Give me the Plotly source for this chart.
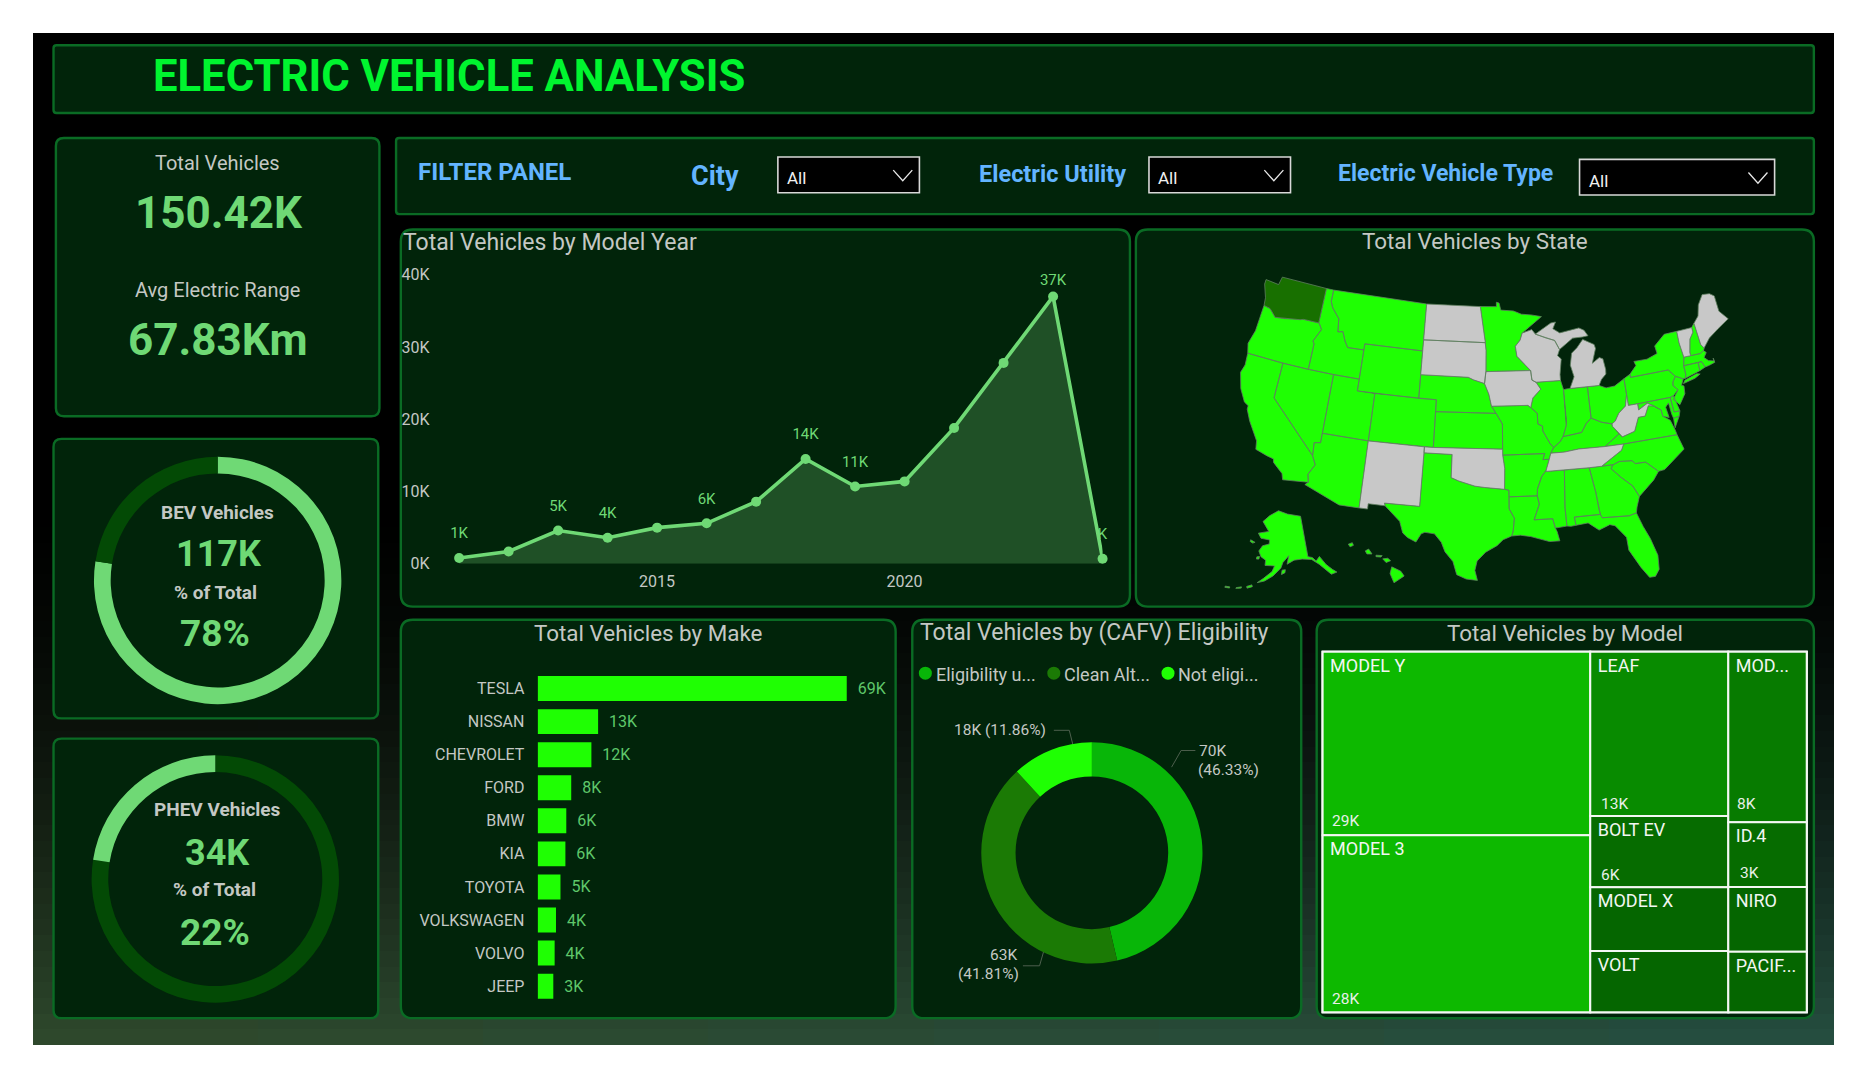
import math
import plotly.graph_objects as go

# The page keeps the browser's 8px body margin, so the figure fills the window inside it
PAGE_W, PAGE_H, OFF = 1865, 1078, 8
W, H = PAGE_W - 2 * OFF, PAGE_H - 2 * OFF
S = PAGE_W / 1568
FONT = "Roboto"

years = [2011, 2012, 2013, 2014, 2015, 2016, 2017, 2018, 2019, 2020, 2021, 2022, 2023, 2024]
year_totals = [0.8, 1.7, 4.6, 3.6, 5.0, 5.6, 8.6, 14.5, 10.7, 11.4, 18.8, 27.8, 37.0, 0.7]
year_labels = ["1K", "", "5K", "4K", "", "6K", "", "14K", "11K", "", "", "", "37K", "K"]
makes = ["TESLA", "NISSAN", "CHEVROLET", "FORD", "BMW", "KIA", "TOYOTA", "VOLKSWAGEN", "VOLVO", "JEEP"]
make_totals = [69, 13.5, 12, 7.5, 6.4, 6.2, 5.1, 4.1, 3.8, 3.5]
make_labels = ["69K", "13K", "12K", "8K", "6K", "6K", "5K", "4K", "4K", "3K"]
cafv_totals = [46.33, 41.81, 11.86]
bev_phev = [117, 34]
model_names = ["MODEL Y", "MODEL 3", "LEAF", "BOLT EV", "MODEL X", "VOLT", "MOD...", "ID.4", "NIRO", "PACIF..."]
model_totals = [29, 28, 13.4, 5.8, 5.2, 5.0, 7.9, 3.0, 3.0, 2.8]
model_group = ["a", "a", "b", "b", "b", "b", "c", "c", "c", "c"]
model_colors = ["#0db900", "#0db900", "#088b00", "#066c00", "#056600", "#056600", "#077b00", "#066c00", "#056600", "#056600"]
no_data_states = ["ND", "SD", "IA", "WI", "MI", "MI2", "WV", "TN", "OK", "NM", "ME", "VT"]
top_state = ["WA"]

# state outlines, (lon, lat): the map base layer cannot be fetched offline
STATE_SHAPES = {
"WA": [(-124.7,48.4),(-123.0,48.3),(-122.8,49.0),(-117.0,49.0),(-117.0,46.0),(-118.9,46.0),(-119.3,45.9),(-121.2,45.65),(-122.3,45.55),(-122.8,45.9),(-123.2,46.15),(-124.0,46.25),(-124.1,46.9),(-124.7,48.0)],
"OR": [(-124.0,46.25),(-123.2,46.15),(-122.8,45.9),(-122.3,45.55),(-121.2,45.65),(-119.3,45.9),(-118.9,46.0),(-117.0,46.0),(-116.9,45.95),(-116.5,45.5),(-116.85,44.9),(-117.2,44.4),(-117.0,44.2),(-117.0,42.0),(-120.0,42.0),(-124.2,42.0),(-124.5,42.8),(-124.1,44.0)],
"CA": [(-124.2,42.0),(-120.0,42.0),(-120.0,39.0),(-114.6,35.0),(-114.15,34.3),(-114.7,33.4),(-114.5,32.75),(-117.1,32.5),(-117.3,33.0),(-118.4,33.75),(-118.5,34.03),(-119.2,34.15),(-120.5,34.45),(-120.65,35.15),(-121.9,36.6),(-122.5,37.5),(-122.5,37.8),(-123.0,38.0),(-123.8,39.0),(-124.35,40.3),(-124.1,41.0)],
"NV": [(-120.0,42.0),(-117.0,42.0),(-114.04,42.0),(-114.04,36.2),(-114.7,36.1),(-114.6,35.0),(-120.0,39.0)],
"ID": [(-117.0,49.0),(-116.05,49.0),(-116.05,48.0),(-115.7,47.5),(-114.7,46.7),(-114.5,45.6),(-113.9,45.7),(-113.45,44.95),(-113.0,44.45),(-111.05,44.48),(-111.05,42.0),(-114.04,42.0),(-117.0,42.0),(-117.0,44.2),(-117.2,44.4),(-116.85,44.9),(-116.5,45.5),(-116.9,45.95),(-117.0,46.0)],
"MT": [(-116.05,49.0),(-104.05,49.0),(-104.05,45.94),(-104.05,45.0),(-111.05,45.0),(-111.05,44.48),(-113.0,44.45),(-113.45,44.95),(-113.9,45.7),(-114.5,45.6),(-114.7,46.7),(-115.7,47.5),(-116.05,48.0)],
"WY": [(-111.05,45.0),(-104.05,45.0),(-104.05,43.0),(-104.05,41.0),(-111.05,41.0)],
"UT": [(-114.04,42.0),(-111.05,42.0),(-111.05,41.0),(-109.05,41.0),(-109.05,37.0),(-114.04,37.0)],
"CO": [(-109.05,41.0),(-104.05,41.0),(-102.05,41.0),(-102.05,40.0),(-102.05,37.0),(-109.05,37.0)],
"AZ": [(-114.04,37.0),(-109.05,37.0),(-109.05,31.33),(-111.07,31.33),(-114.8,32.5),(-114.5,32.75),(-114.7,33.4),(-114.15,34.3),(-114.6,35.0),(-114.7,36.1),(-114.04,36.2)],
"NM": [(-109.05,37.0),(-103.0,37.0),(-103.05,32.0),(-106.6,32.0),(-106.5,31.78),(-108.2,31.78),(-108.2,31.33),(-109.05,31.33)],
"ND": [(-104.05,49.0),(-97.2,49.0),(-96.55,46.0),(-96.55,45.94),(-104.05,45.94)],
"SD": [(-104.05,45.94),(-96.55,45.94),(-96.45,45.3),(-96.45,43.5),(-96.6,42.5),(-97.9,42.8),(-98.5,43.0),(-104.05,43.0)],
"NE": [(-104.05,43.0),(-98.5,43.0),(-97.9,42.8),(-96.6,42.5),(-96.1,41.6),(-95.8,40.6),(-95.3,40.0),(-102.05,40.0),(-102.05,41.0),(-104.05,41.0)],
"KS": [(-102.05,40.0),(-95.3,40.0),(-94.6,39.1),(-94.62,37.0),(-102.05,37.0)],
"OK": [(-103.0,37.0),(-102.05,37.0),(-94.62,37.0),(-94.62,36.5),(-94.43,35.4),(-94.48,33.64),(-96.5,33.8),(-97.5,33.9),(-99.2,34.3),(-100.0,34.56),(-100.0,36.5),(-103.0,36.5)],
"TX": [(-103.0,36.5),(-100.0,36.5),(-100.0,34.56),(-99.2,34.3),(-97.5,33.9),(-96.5,33.8),(-94.48,33.64),(-94.04,33.55),(-94.04,33.0),(-94.05,31.99),(-93.55,31.2),(-93.7,30.1),(-93.85,29.7),(-94.7,29.4),(-95.3,28.9),(-96.4,28.35),(-97.2,27.6),(-97.4,26.8),(-97.15,25.95),(-98.2,26.05),(-99.1,26.4),(-99.5,27.5),(-100.3,28.3),(-100.7,29.1),(-101.4,29.77),(-102.35,29.85),(-102.7,29.7),(-103.15,28.98),(-104.0,29.3),(-104.5,29.65),(-104.9,30.6),(-106.5,31.78),(-106.6,32.0),(-103.05,32.0)],
"MN": [(-97.2,49.0),(-95.15,49.0),(-95.15,49.38),(-94.8,49.3),(-94.6,48.7),(-93.0,48.6),(-92.0,48.3),(-90.8,48.2),(-89.5,48.0),(-92.0,46.7),(-92.3,46.1),(-92.9,45.6),(-92.75,44.75),(-91.2,43.5),(-96.45,43.5),(-96.45,45.3),(-96.55,45.94),(-96.55,46.0)],
"IA": [(-96.45,43.5),(-91.2,43.5),(-91.1,42.7),(-90.65,42.5),(-90.15,41.9),(-91.1,41.2),(-91.4,40.4),(-91.7,40.6),(-95.8,40.6),(-96.1,41.6),(-96.6,42.5)],
"MO": [(-95.8,40.6),(-91.7,40.6),(-91.4,40.4),(-90.7,39.9),(-90.7,39.0),(-90.2,38.8),(-90.2,38.4),(-89.5,37.3),(-89.15,36.95),(-89.5,36.5),(-89.7,36.0),(-90.37,36.0),(-90.15,36.5),(-94.62,36.5),(-94.62,37.0),(-94.6,39.1),(-95.3,40.0)],
"AR": [(-94.62,36.5),(-90.15,36.5),(-90.37,36.0),(-89.7,36.0),(-90.1,35.1),(-90.6,34.6),(-91.1,33.6),(-91.17,33.0),(-94.04,33.0),(-94.04,33.55),(-94.48,33.64),(-94.43,35.4)],
"LA": [(-94.04,33.0),(-91.17,33.0),(-91.0,32.3),(-91.6,31.0),(-89.75,31.0),(-89.55,30.2),(-89.4,29.9),(-89.2,29.1),(-90.2,29.1),(-91.3,29.4),(-92.0,29.6),(-93.0,29.75),(-93.85,29.7),(-93.7,30.1),(-93.55,31.2),(-94.05,31.99)],
"WI": [(-92.0,46.7),(-90.8,46.95),(-90.4,46.55),(-89.1,46.15),(-88.1,45.9),(-87.6,45.1),(-87.9,44.6),(-87.5,44.3),(-87.8,43.0),(-87.8,42.5),(-90.65,42.5),(-91.1,42.7),(-91.2,43.5),(-92.75,44.75),(-92.9,45.6),(-92.3,46.1)],
"IL": [(-90.65,42.5),(-87.8,42.5),(-87.55,41.7),(-87.53,39.3),(-87.6,38.7),(-88.05,37.8),(-88.4,37.4),(-89.15,36.95),(-89.5,37.3),(-90.2,38.4),(-90.2,38.8),(-90.7,39.0),(-90.7,39.9),(-91.4,40.4),(-91.1,41.2),(-90.15,41.9)],
"IN": [(-87.55,41.7),(-87.2,41.75),(-84.8,41.75),(-84.8,39.1),(-85.4,38.7),(-86.0,38.0),(-87.0,37.9),(-88.05,37.8),(-87.6,38.7),(-87.53,39.3)],
"OH": [(-84.8,41.75),(-83.45,41.73),(-82.7,41.45),(-81.7,41.5),(-80.52,41.98),(-80.52,40.64),(-80.85,39.7),(-81.7,39.2),(-82.2,38.6),(-82.6,38.4),(-83.7,38.65),(-84.8,39.1)],
"MI": [(-86.8,41.76),(-84.8,41.75),(-83.45,41.73),(-83.1,42.2),(-82.5,42.6),(-82.45,43.0),(-82.6,43.9),(-83.0,44.05),(-83.9,43.65),(-83.3,44.85),(-83.4,45.2),(-84.7,45.75),(-85.5,45.1),(-86.2,44.7),(-86.5,43.7),(-86.2,42.7)],
"MI2": [(-90.4,46.55),(-88.4,47.4),(-87.8,47.45),(-88.2,46.9),(-87.4,46.5),(-86.0,46.65),(-85.0,46.75),(-84.4,46.5),(-84.0,46.0),(-84.7,45.95),(-85.9,45.95),(-86.6,45.6),(-87.6,45.1),(-88.1,45.9),(-89.1,46.15)],
"KY": [(-89.5,36.5),(-88.05,36.5),(-86.5,36.65),(-83.68,36.6),(-82.0,37.5),(-82.6,38.2),(-82.6,38.4),(-83.7,38.65),(-84.8,39.1),(-85.4,38.7),(-86.0,38.0),(-87.0,37.9),(-88.05,37.8),(-88.4,37.4),(-89.15,36.95)],
"TN": [(-90.1,35.0),(-90.1,35.1),(-89.7,36.0),(-89.5,36.5),(-88.05,36.5),(-86.5,36.65),(-83.68,36.6),(-81.68,36.59),(-82.0,36.1),(-84.3,35.0),(-85.6,35.0),(-88.2,35.0)],
"VA": [(-83.68,36.6),(-81.68,36.59),(-75.9,36.55),(-76.0,37.0),(-76.3,37.85),(-77.0,38.3),(-77.05,38.85),(-77.5,39.1),(-77.75,39.3),(-78.35,39.4),(-78.9,38.6),(-79.65,38.6),(-80.3,37.5),(-81.7,37.2),(-82.0,37.5)],
"VA2": [(-75.9,37.95),(-75.25,38.03),(-75.95,37.15)],
"WV": [(-82.6,38.2),(-82.0,37.5),(-81.7,37.2),(-80.3,37.5),(-79.65,38.6),(-78.9,38.6),(-78.35,39.4),(-77.75,39.3),(-78.4,39.62),(-79.48,39.2),(-79.48,39.72),(-80.52,39.72),(-80.52,40.64),(-80.85,39.7),(-81.7,39.2),(-82.2,38.6),(-82.6,38.4)],
"NC": [(-84.3,35.0),(-82.0,36.1),(-81.68,36.59),(-75.9,36.55),(-75.5,35.25),(-76.5,34.7),(-77.9,33.9),(-78.55,33.85),(-79.7,34.8),(-80.8,34.82),(-81.05,35.1),(-82.4,35.2),(-83.1,35.0)],
"SC": [(-83.1,35.0),(-82.4,35.2),(-81.05,35.1),(-80.8,34.82),(-79.7,34.8),(-78.55,33.85),(-79.2,33.2),(-80.5,32.3),(-80.9,32.05),(-81.4,33.0),(-82.5,33.9),(-83.35,34.7)],
"GA": [(-85.6,35.0),(-84.3,35.0),(-83.1,35.0),(-83.35,34.7),(-82.5,33.9),(-81.4,33.0),(-80.9,32.05),(-81.3,31.2),(-81.45,30.72),(-82.2,30.57),(-84.86,30.7),(-85.0,31.0),(-85.1,31.5),(-85.2,32.85)],
"AL": [(-88.2,35.0),(-85.6,35.0),(-85.2,32.85),(-85.1,31.5),(-85.0,31.0),(-87.6,31.0),(-87.5,30.3),(-88.0,30.25),(-88.4,30.3),(-88.45,31.9)],
"MS": [(-90.1,35.0),(-88.2,35.0),(-88.45,31.9),(-88.4,30.3),(-89.55,30.2),(-89.75,31.0),(-91.6,31.0),(-91.0,32.3),(-91.17,33.0),(-91.1,33.6),(-90.6,34.6),(-90.1,35.1)],
"FL": [(-87.6,31.0),(-85.0,31.0),(-84.86,30.7),(-82.2,30.57),(-81.45,30.72),(-81.0,29.5),(-80.5,28.4),(-80.05,26.9),(-80.15,25.7),(-80.6,25.15),(-81.15,25.15),(-81.8,26.1),(-82.7,27.7),(-82.75,28.8),(-83.7,29.9),(-84.2,30.05),(-85.3,29.7),(-86.3,30.4),(-87.5,30.3)],
"MD": [(-79.48,39.72),(-75.79,39.72),(-75.7,38.46),(-75.05,38.45),(-75.25,38.03),(-75.9,37.95),(-76.0,38.3),(-76.1,39.3),(-76.5,39.0),(-76.35,38.1),(-77.0,38.3),(-77.05,38.85),(-77.5,39.1),(-77.75,39.3),(-78.4,39.62),(-79.48,39.2)],
"DE": [(-75.79,39.72),(-75.4,39.8),(-75.05,38.45),(-75.7,38.46)],
"PA": [(-80.52,41.98),(-79.76,42.27),(-79.76,42.0),(-75.35,42.0),(-74.7,41.35),(-75.1,40.95),(-75.2,40.65),(-74.75,40.2),(-75.4,39.8),(-75.79,39.72),(-79.48,39.72),(-80.52,39.72),(-80.52,40.64)],
"NJ": [(-74.7,41.35),(-73.9,41.0),(-74.25,40.5),(-74.0,40.4),(-74.1,39.75),(-74.9,38.95),(-75.5,39.5),(-74.75,40.2),(-75.2,40.65),(-75.1,40.95)],
"NY": [(-79.76,42.27),(-79.76,42.0),(-75.35,42.0),(-74.7,41.35),(-73.9,41.0),(-73.65,41.0),(-73.5,41.3),(-73.5,42.05),(-73.25,42.75),(-73.4,44.0),(-73.35,45.0),(-74.9,45.0),(-76.3,44.2),(-76.2,43.55),(-77.5,43.25),(-79.05,43.27),(-78.9,42.9)],
"NY2": [(-74.0,40.6),(-73.75,40.85),(-72.3,41.15),(-71.9,41.05),(-72.6,40.8)],
"VT": [(-73.35,45.0),(-71.5,45.0),(-71.5,44.6),(-72.05,44.1),(-72.45,43.0),(-72.45,42.73),(-73.25,42.75),(-73.4,44.0)],
"NH": [(-71.5,45.0),(-71.1,45.3),(-70.98,43.4),(-70.7,43.07),(-70.85,42.87),(-71.3,42.7),(-72.45,42.73),(-72.45,43.0),(-72.05,44.1),(-71.5,44.6)],
"ME": [(-71.1,45.3),(-70.4,45.8),(-70.0,46.7),(-69.2,47.45),(-68.3,47.35),(-67.8,47.05),(-67.8,45.7),(-67.45,45.3),(-67.0,44.85),(-68.5,44.3),(-69.8,43.75),(-70.7,43.07),(-70.98,43.4)],
"MA": [(-73.5,42.05),(-73.25,42.75),(-72.45,42.73),(-71.3,42.7),(-70.85,42.87),(-70.6,42.65),(-71.0,42.3),(-70.6,41.95),(-70.0,41.8),(-70.0,42.05),(-69.95,41.67),(-70.65,41.55),(-71.15,41.5),(-71.4,42.02),(-71.8,42.02)],
"RI": [(-71.8,42.02),(-71.4,42.02),(-71.15,41.5),(-71.85,41.32)],
"CT": [(-73.5,42.05),(-71.8,42.02),(-71.85,41.32),(-73.65,41.0),(-73.5,41.3)],
}
ALASKA_SHAPES = [
 [(-141.0,69.6),(-141.0,60.3),(-139.0,59.9),(-137.5,58.9),(-135.5,59.7),(-133.5,57.5),(-131.5,56.0),(-130.0,55.0),(-132.5,55.0),(-134.5,56.5),(-136.5,58.0),(-139.5,59.5),(-144.0,60.0),(-148.0,60.0),(-151.5,59.2),(-150.5,61.1),(-153.5,59.6),(-154.5,58.3),(-158.0,56.5),(-161.5,55.2),(-164.5,54.6),(-162.0,55.8),(-158.5,57.5),(-157.5,58.8),(-162.0,58.7),(-162.0,59.9),(-164.5,60.5),(-166.0,61.7),(-164.5,63.0),(-161.0,63.6),(-161.0,64.5),(-166.0,64.6),(-168.0,65.6),(-162.0,66.4),(-163.5,67.2),(-166.5,68.4),(-162.5,70.0),(-156.5,71.3),(-150.0,70.5)],
 [(-153.9,57.9),(-152.4,58.0),(-152.6,57.3),(-154.2,56.9)],
 [(-168.5,53.3),(-166.5,53.9),(-166.2,53.5),(-168.2,52.9)],
 [(-172.5,52.4),(-170.5,52.9),(-170.5,52.6),(-172.5,52.1)],
 [(-176.8,51.9),(-175.0,52.1),(-175.0,51.8),(-176.8,51.6)],
 [(-171.5,63.7),(-168.8,63.4),(-170.0,63.1),(-171.5,63.3)],
 [(-166.5,60.3),(-165.2,60.5),(-165.3,59.9),(-166.5,59.8)],
]
HAWAII_SHAPES = [
 [(-155.9,20.25),(-155.1,19.9),(-154.8,19.5),(-155.7,18.95),(-156.05,19.7)],
 [(-156.7,20.9),(-156.25,20.95),(-156.0,20.75),(-156.4,20.6)],
 [(-157.3,21.2),(-156.75,21.17),(-156.85,21.05),(-157.3,21.08)],
 [(-158.25,21.55),(-157.95,21.7),(-157.65,21.3),(-158.1,21.3)],
 [(-159.75,22.1),(-159.4,22.22),(-159.3,22.0),(-159.6,21.88)],
]

PANEL, EDGE = "#01240a", "#0a6b24"
LIGHT, DARKRING = "#6fd975", "#034a05"
GRAY = "#c4c8c4"
GREEN = "#1fff03"

def px(x): return (x * S - OFF) / W
def py(y): return 1 - (y * S - OFF) / H
def qx(x): return (x - OFF) / W
def qy(y): return 1 - (y - OFF) / H

def rpath(x0, y0, x1, y1, r=8):
    rx, ry = r / W, r / H
    a, b, c, d = px(x0), py(y0), px(x1), py(y1)
    return (f"M{a+rx},{b} L{c-rx},{b} Q{c},{b} {c},{b-ry} L{c},{d+ry} Q{c},{d} {c-rx},{d} "
            f"L{a+rx},{d} Q{a},{d} {a},{d+ry} L{a},{b-ry} Q{a},{b} {a+rx},{b} Z")

def ppath(pts):
    return "M" + " L".join(f"{px(a)},{py(b)}" for a, b in pts)

shapes, anns = [], []
def rect(x0, y0, x1, y1, fill, line=None, lw=0):
    shapes.append(dict(type="rect", xref="paper", yref="paper", x0=qx(x0), x1=qx(x1), y0=qy(y0), y1=qy(y1),
                       fillcolor=fill, line=dict(width=lw, color=line or fill), layer="below"))

# dark backdrop with its vertical glow; each tile overlaps the next so no seams show
rect(33, 33, 1834, 1045, "#000000")
ROWS, COLS = 36, 8
top = 480
for r in range(ROWS):
    y0 = round(top + (1045 - top) * r / ROWS); y1 = round(top + (1045 - top) * (r + 1) / ROWS)
    t = ((r + 0.5) / ROWS) ** 1.7
    for c in range(COLS):
        x0 = round(33 + 1801 * c / COLS); x1 = round(33 + 1801 * (c + 1) / COLS)
        u = (c + 0.5) / COLS
        col = f"rgb({int(t*(48-10*u))},{int(t*(74+6*u))},{int(t*(44+22*u))})"
        rect(x0, y0, min(x1 + 2, 1834), min(y1 + 2, 1045), col)

panels = [(45,38,1525,95,3),(47,116,319,350,8),(45,369,318,604,8),(45,621,318,856,8),(333,116,1525,180,3),
          (337,193,950,510,12),(955,193,1525,510,12),(337,521,753,856,12),(767,521,1094,856,12),(1107,521,1525,856,12)]
for p in panels:
    shapes.append(dict(type="path", path=rpath(*p[:4], p[4]), xref="paper", yref="paper", fillcolor=PANEL,
                       line=dict(color=EDGE, width=2.4), layer="below"))

def T(x, y, text, size, color=GRAY, anchor="center", bold=False):
    anns.append(dict(x=px(x), y=py(y), xref="paper", yref="paper", text=f"<b>{text}</b>" if bold else text,
                     showarrow=False, xanchor=anchor, yanchor="middle", align=anchor,
                     font=dict(family=FONT, size=size, color=color)))

T(127, 64, "ELECTRIC VEHICLE ANALYSIS", 43.6, "#00f52f", "left", True)
T(350, 145, "FILTER PANEL", 24, "#63b4ff", "left", True)
T(579, 148, "City", 27, "#63b4ff", "left", True)
T(821, 146, "Electric Utility", 23.5, "#63b4ff", "left", True)
T(1123, 146, "Electric Vehicle Type", 23, "#63b4ff", "left", True)
for x0, y0, x1, y1 in [(654,132,773,162),(966,132,1085,162),(1328,134,1492,164)]:
    rect(x0*S, y0*S, x1*S, y1*S, "#000000", "#d8d8d8", 1.6)
    T(x0 + 6, y1 - 12, "All", 17, "#f0f0f0", "left")
    cx, cy = x1 - 14, (y0 + y1) / 2
    shapes.append(dict(type="path", xref="paper", yref="paper", layer="below", line=dict(color="#e8e8e8", width=1.3),
                       path=ppath([(cx-8, cy-4), (cx, cy+5), (cx+8, cy-4)])))

T(183, 137, "Total Vehicles", 20)
T(184, 179, "150.42K", 44, LIGHT, bold=True)
T(183, 244, "Avg Electric Range", 20)
T(183, 286, "67.83Km", 44, LIGHT, bold=True)
T(183, 431, "BEV Vehicles", 19, GRAY, bold=True)
T(184, 466, "117K", 36, LIGHT, bold=True)
T(181, 498, "% of Total", 19, GRAY, bold=True)
T(181, 533, "78%", 37, LIGHT, bold=True)
T(183, 681, "PHEV Vehicles", 19, GRAY, bold=True)
T(183, 717, "34K", 36, LIGHT, bold=True)
T(180, 748, "% of Total", 19, GRAY, bold=True)
T(181, 784, "22%", 37, LIGHT, bold=True)
T(337, 204, "Total Vehicles by Model Year", 23, GRAY, "left")
T(1240, 203, "Total Vehicles by State", 22.4)
T(545, 532, "Total Vehicles by Make", 22.4)
T(772, 532, "Total Vehicles by (CAFV) Eligibility", 23, GRAY, "left")
T(1316, 532, "Total Vehicles by Model", 22.4)

# legend of the eligibility ring
leg_colors = ["#08b608", "#1b7a05", GREEN]
for x, name, col in zip([778, 886, 982], ["Eligibility u...", "Clean Alt...", "Not eligi..."], leg_colors):
    shapes.append(dict(type="circle", xref="paper", yref="paper", layer="below", fillcolor=col, line=dict(width=0),
                       x0=px(x-5.5), x1=px(x+5.5), y0=py(566+5.5), y1=py(566-5.5)))
    T(x + 7, 567, name, 18, GRAY, "left")
T(841, 614, "18K (11.86%)", 15.5, GRAY)
T(1019, 631, "70K", 15.5, GRAY)
T(1033, 647, "(46.33%)", 15.5, GRAY)
T(844, 803, "63K", 15.5, GRAY)
T(831, 819, "(41.81%)", 15.5, GRAY)
for pts in [[(886,614),(899,614),(902,626)], [(1005,631),(993,631),(985,645)], [(860,812),(874,812),(878,798)]]:
    shapes.append(dict(type="path", xref="paper", yref="paper", layer="below", line=dict(color="#4d5f4d", width=1),
                       path=ppath(pts)))
# value captions of the tree cells
for x, y, s in [(1118,690,"29K"),(1118,840,"28K"),(1344,676,"13K"),(1459,676,"8K"),(1344,736,"6K"),(1461,734,"3K")]:
    T(x, y, s, 15.5, "#e8efe8", "left")

fig = go.Figure()

# rings
def ring(values, colors, cx, cy, r, hole):
    fig.add_trace(go.Pie(values=values, sort=False, direction="clockwise", rotation=0, hole=hole, textinfo="none",
                         marker=dict(colors=colors, line=dict(width=0)), showlegend=False,
                         domain=dict(x=[px(cx-r), px(cx+r)], y=[py(cy+r), py(cy-r)])))
ring(bev_phev, [LIGHT, DARKRING], 183, 488, 104, 0.865)
ring(bev_phev, [DARKRING, LIGHT], 181, 739, 104, 0.865)
ring(cafv_totals, ["#08b608", "#1b7a05", GREEN], 918, 717, 93, 0.69)

# line
x0_line, x1_line = 362, 927
year_step = (927 - 386) / 13
fig.add_trace(go.Scatter(x=years, y=year_totals, mode="lines+markers", fill="tozeroy", fillcolor="#1f5026",
                         line=dict(color=LIGHT, width=3.6), marker=dict(size=10, color=LIGHT), xaxis="x", yaxis="y",
                         showlegend=False, cliponaxis=False))
lift = [24, 24, 24, 24, 24, 24, 24, 24, 24, 24, 24, 24, 10, 24]
fig.add_trace(go.Scatter(x=years, y=year_totals, mode="markers+text", text=year_labels, textposition="top center",
                         textfont=dict(family=FONT, size=15, color=LIGHT),
                         marker=dict(size=lift, color="rgba(0,0,0,0)", line=dict(width=0)),
                         xaxis="x", yaxis="y", showlegend=False, cliponaxis=False))

# bars
fig.add_trace(go.Bar(x=make_totals, y=makes, orientation="h", marker=dict(color=GREEN, line=dict(width=0)),
                     text=["\u00a0\u00a0" + t for t in make_labels], textposition="outside", cliponaxis=False,
                     textfont=dict(family=FONT, size=16, color="#5fc86a"), xaxis="x2", yaxis="y2", showlegend=False))

# tree
group_ids = ["a", "b", "c"]
group_values = [sum(v for v, g in zip(model_totals, model_group) if g == k) for k in group_ids]
fig.add_trace(go.Treemap(
    ids=["root"] + group_ids + model_names,
    labels=[""] * 4 + model_names,
    parents=[""] + ["root"] * 3 + model_group,
    values=[sum(group_values)] + group_values + model_totals,
    text=[""] * 4 + ["\u00a0" + m for m in model_names],
    textinfo="text", textposition="top left", branchvalues="total", sort=False,
    marker=dict(colors=["#ffffff"] * 4 + model_colors, line=dict(color="#f4f8f4", width=2), pad=dict(t=0, l=0, r=0, b=0)),
    tiling=dict(packing="slice-dice", pad=0), pathbar=dict(visible=False), root=dict(color="#ffffff"),
    textfont=dict(family=FONT, size=18, color="#f2f6f2"),
    domain=dict(x=[px(1112), px(1519)], y=[py(851), py(548)])))

# map: Albers conic for the lower 48 and the Alaska inset, plain scaling for Hawaii
def albers(lon, lat, lon0=-96.0, lat0=37.5, p1=29.5, p2=45.5):
    r = math.radians
    n = (math.sin(r(p1)) + math.sin(r(p2))) / 2
    c = math.cos(r(p1)) ** 2 + 2 * n * math.sin(r(p1))
    rho = math.sqrt(c - 2 * n * math.sin(r(lat))) / n
    rho0 = math.sqrt(c - 2 * n * math.sin(r(lat0))) / n
    th = n * r(lon - lon0)
    return rho * math.sin(th), rho0 - rho * math.cos(th)

def fitter(proj, ax, bx, ay, by):
    # ax/bx: ((lon,lat), pixel) anchors for x, ay/by for y
    xa, xb = proj(*ax[0])[0], proj(*bx[0])[0]
    ya, yb = proj(*ay[0])[1], proj(*by[0])[1]
    sx = (bx[1] - ax[1]) / (xb - xa); sy = (by[1] - ay[1]) / (yb - ya)
    def f(lon, lat):
        u, v = proj(lon, lat)
        return ax[1] + (u - xa) * sx, ay[1] + (v - ya) * sy
    return f

main = fitter(albers, ((-124.35, 40.3), 1043), ((-67.0, 44.85), 1453), ((-122.8, 49.0), 233), ((-97.15, 25.95), 488))
ak_proj = lambda lon, lat: albers(lon, lat, -154.0, 50.0, 55.0, 65.0)
ak = fitter(ak_proj, ((-168.0, 65.6), 1058), ((-130.0, 55.0), 1124), ((-141.0, 69.6), 434), ((-130.0, 55.0), 481))
hi = fitter(lambda lon, lat: (lon, lat), ((-159.5, 22.05), 1136), ((-155.7, 18.95), 1172), ((-159.5, 22.05), 458), ((-155.7, 18.95), 490))

def outlines(polys, f):
    xs, ys = [], []
    for poly in polys:
        pts = [f(a, b) for a, b in poly]
        pts.append(pts[0])
        xs += [p[0] for p in pts] + [None]
        ys += [p[1] for p in pts] + [None]
    return xs, ys

grey_polys = [v for k, v in STATE_SHAPES.items() if k in no_data_states]
top_polys = [v for k, v in STATE_SHAPES.items() if k in top_state]
rest_polys = [v for k, v in STATE_SHAPES.items() if k not in no_data_states and k not in top_state]
def add_map(xs, ys, fill):
    fig.add_trace(go.Scatter(x=xs, y=ys, mode="lines", fill="toself", fillcolor=fill, line=dict(color="#5f7f5f", width=0.8),
                             xaxis="x3", yaxis="y3", showlegend=False, hoverinfo="skip"))
a1, b1 = outlines(rest_polys, main); a2, b2 = outlines(ALASKA_SHAPES, ak); a3, b3 = outlines(HAWAII_SHAPES, hi)
add_map(a1 + a2 + a3, b1 + b2 + b3, GREEN)
add_map(*outlines(grey_polys, main), "#c8c8c8")
add_map(*outlines(top_polys, main), "#187000")

axis_font = dict(family=FONT, size=16, color=GRAY)
fig.update_layout(
    width=W, height=H, margin=dict(l=0, r=0, t=0, b=0, autoexpand=False), paper_bgcolor="#ffffff", plot_bgcolor="rgba(0,0,0,0)",
    showlegend=False, shapes=shapes, annotations=anns, bargap=0.245,
    xaxis=dict(domain=[px(x0_line), px(x1_line)], range=[2011 - (386 - x0_line) / year_step, 2024], automargin=False,
               tickvals=[2015, 2020], ticktext=["2015", "2020"], showgrid=False, zeroline=False, showline=False,
               tickfont=axis_font, ticks="", ticklabelstandoff=6),
    yaxis=dict(domain=[py(474), py(231)], range=[0, 40], tickvals=[0, 10, 20, 30, 40], automargin=False,
               ticktext=["0K", "10K", "20K", "30K", "40K"], showgrid=False, zeroline=False, showline=False, tickfont=axis_font, ticks=""),
    xaxis2=dict(domain=[px(452), px(712)], range=[0, 69], visible=False, anchor="y2", automargin=False),
    yaxis2=dict(domain=[py(843), py(565)], autorange="reversed", anchor="x2", showgrid=False, zeroline=False, showline=False, automargin=False,
                tickfont=axis_font, ticks="outside", ticklen=9, tickcolor="rgba(0,0,0,0)"),
    xaxis3=dict(domain=[px(1020), px(1470)], range=[1020, 1470], visible=False, anchor="y3", automargin=False),
    yaxis3=dict(domain=[py(495), py(225)], range=[495, 225], visible=False, anchor="x3", automargin=False),
)

fig.write_html("out.html", config=dict(displayModeBar=False))
